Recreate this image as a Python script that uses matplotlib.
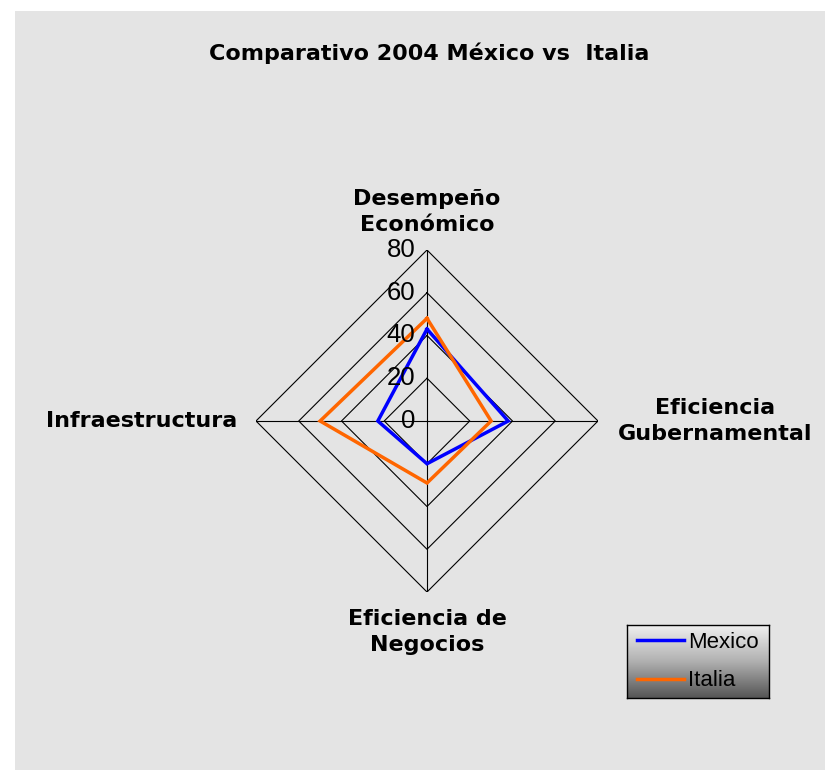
import numpy as np
import matplotlib
matplotlib.use("Agg")
import matplotlib.pyplot as plt
from matplotlib.patches import Rectangle
from matplotlib.colors import LinearSegmentedColormap
from matplotlib import font_manager as fm

# ---- data ----
categories = ["Desempeño\nEconómico", "Eficiencia\nGubernamental",
              "Eficiencia de\nNegocios", "Infraestructura"]
mexico = [43, 38, 20, 23]
italia = [48, 30, 29, 50]
levels = [0, 20, 40, 60, 80]
series_names = ["Mexico", "Italia"]
colors = ["#0000FF", "#FF6600"]

# pick regular-width Liberation Sans file
reg_path = None
for f in fm.findSystemFonts():
    if f.endswith("LiberationSans-Regular.ttf"):
        reg_path = f
        break


def reg_font(size):
    if reg_path:
        return fm.FontProperties(fname=reg_path, size=size)
    return fm.FontProperties(family="DejaVu Sans", size=size)


W, H = 825, 770
fig = plt.figure(figsize=(W / 100, H / 100), dpi=100)
fig.patch.set_facecolor("white")
fig.patches.append(Rectangle((15 / W, 0), 1, 1 - 11 / H, transform=fig.transFigure,
                             facecolor="#e4e4e4", edgecolor="none", zorder=-10))

# radar axes (center 427,421 px, radius 171 px)
cx, cy, R = 427, 421, 171
ax = fig.add_axes([(cx - R) / W, (H - cy - R) / H, 2 * R / W, 2 * R / H])
ax.set_xlim(-80, 80)
ax.set_ylim(-80, 80)
ax.set_aspect("equal")
ax.axis("off")

n = len(categories)
theta = np.arange(n) * 2 * np.pi / n  # clockwise from top
ct = np.concatenate([theta, theta[:1]])

# grid diamonds and spokes
for lv in levels[1:]:
    ax.plot(lv * np.sin(ct), lv * np.cos(ct), color="black", lw=0.8, zorder=1)
for t in theta:
    ax.plot([0, levels[-1] * np.sin(t)], [0, levels[-1] * np.cos(t)],
            color="black", lw=0.8, zorder=1)

handles = []
for vals, name, col in zip([mexico, italia], series_names, colors):
    v = np.array(vals + vals[:1], dtype=float)
    h, = ax.plot(v * np.sin(ct), v * np.cos(ct), color=col, lw=2.5,
                 label=name, zorder=3, solid_joinstyle="miter")
    handles.append(h)

# tick labels
for lv in levels:
    ax.annotate(str(lv), xy=(0, lv), xytext=(-8.5, 0), textcoords="offset points",
                ha="right", va="center", fontproperties=reg_font(18.5), zorder=4)

# category labels
lab_kw = dict(fontsize=16, fontweight="bold", family="DejaVu Sans",
              textcoords="offset points", linespacing=1.35, zorder=4)
offsets = [((0, 27.5), "center", "center"),
           ((84, 0), "center", "center"),
           ((0, -28.8), "center", "center"),
           ((-13.5, 0), "right", "center")]
for t, lab, (off, ha, va) in zip(theta, categories, offsets):
    ax.annotate(lab, xy=(80 * np.sin(t), 80 * np.cos(t)), xytext=off,
                ha=ha, va=va, multialignment="center", **lab_kw)

# title
fig.text(429 / W, 1 - 53 / H, "Comparativo 2004 México vs  Italia",
         ha="center", va="center", fontsize=16, fontweight="bold",
         family="DejaVu Sans")

# legend with gradient background
lx0, ly0, lx1, ly1 = 627, 625, 769, 698
lax = fig.add_axes([lx0 / W, 1 - ly1 / H, (lx1 - lx0) / W, (ly1 - ly0) / H])
cmap = LinearSegmentedColormap.from_list("g", ["#f0f0f0", "#b0b0b0", "#555555"])
lax.imshow(np.linspace(0, 1, 256).reshape(-1, 1), cmap=cmap, aspect="auto",
           extent=[0, 1, 0, 1])
lax.set_xticks([])
lax.set_yticks([])
for s in lax.spines.values():
    s.set_color("black")
    s.set_linewidth(1.0)
lax.legend(handles=handles, loc="center", frameon=False,
           prop=reg_font(16),
           handlelength=2.1, handletextpad=0.2, labelspacing=0.8,
           borderpad=0.0, borderaxespad=0.0)

fig.savefig("out.png", dpi=100)
